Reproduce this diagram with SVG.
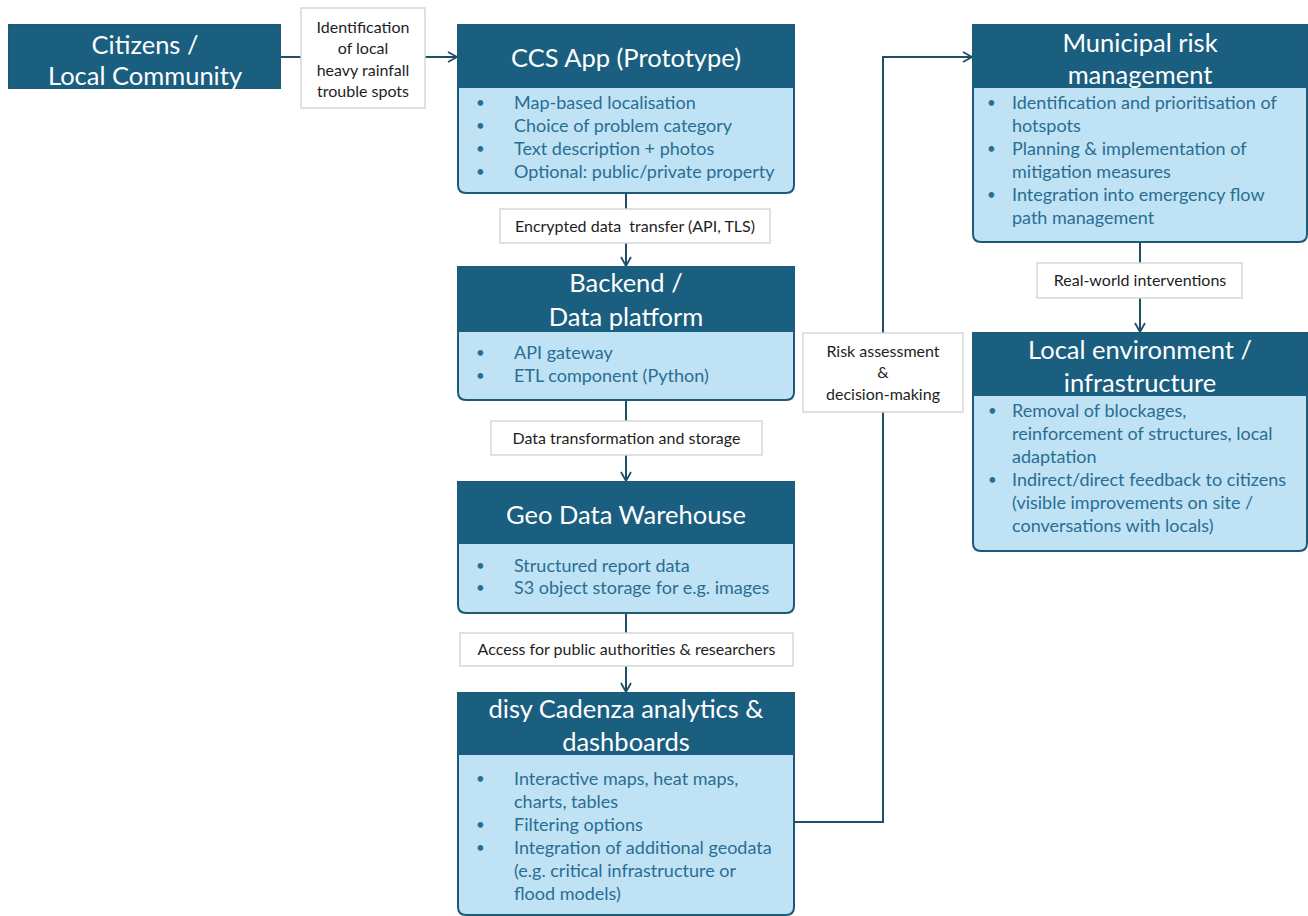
<svg xmlns="http://www.w3.org/2000/svg" width="1308" height="916" viewBox="0 0 1308 916">
<defs>
<marker id="arr" markerWidth="12" markerHeight="12" refX="10" refY="6" orient="auto" markerUnits="userSpaceOnUse">
<path d="M1,1 L10,6 L1,11" fill="none" stroke="#1f4f66" stroke-width="1.8"/>
</marker>
<style>
.hdr{fill:#1a5e80}
.body{fill:#bfe3f4;stroke:#1d5a78;stroke-width:2}
.ttl{font-family:Lato,"Open Sans",sans-serif;font-size:25.5px;fill:#ffffff;text-anchor:middle}
.txt{font-family:Lato,"Open Sans",sans-serif;font-size:18px;fill:#2a6d93}
.bul{font-size:15px}
.lbl{fill:#ffffff;stroke:#d6d6d6;stroke-width:1.5}
.lt{font-family:Lato,"Open Sans",sans-serif;font-size:16px;fill:#1e1e1e;text-anchor:middle}
.con{fill:none;stroke:#1f4f66;stroke-width:2}
</style>
</defs>
<rect width="1308" height="916" fill="#ffffff"/>

<g id="connectors">
<line class="con" x1="280" y1="57" x2="301" y2="57"/>
<line class="con" x1="425" y1="57" x2="457" y2="57" marker-end="url(#arr)"/>
<line class="con" x1="626" y1="193" x2="626" y2="266" marker-end="url(#arr)"/>
<line class="con" x1="626" y1="400" x2="626" y2="481" marker-end="url(#arr)"/>
<line class="con" x1="626" y1="613" x2="626" y2="692" marker-end="url(#arr)"/>
<polyline class="con" points="794,822 883,822 883,57 972,57" marker-end="url(#arr)"/>
<line class="con" x1="1140" y1="242" x2="1140" y2="332" marker-end="url(#arr)"/>
<g id="label-identification">
<rect class="lbl" x="301" y="8" width="124" height="100"/>
<text class="lt" x="363" y="33">Identification</text>
<text class="lt" x="363" y="54">of local</text>
<text class="lt" x="363" y="76">heavy rainfall</text>
<text class="lt" x="363" y="97">trouble spots</text>
</g>
<g id="label-encrypted">
<rect class="lbl" x="500" y="209" width="270" height="34"/>
<text class="lt" x="635" y="231.5" xml:space="preserve">Encrypted data  transfer (API, TLS)</text>
</g>
<g id="label-transform">
<rect class="lbl" x="491" y="421" width="271" height="34"/>
<text class="lt" x="626.5" y="443.5">Data transformation and storage</text>
</g>
<g id="label-access">
<rect class="lbl" x="460" y="633" width="333" height="33"/>
<text class="lt" x="626.5" y="655">Access for public authorities &amp; researchers</text>
</g>
<g id="label-risk">
<rect class="lbl" x="803" y="333" width="160" height="79"/>
<text class="lt" x="883" y="356.5">Risk assessment</text>
<text class="lt" x="883" y="377.5">&amp;</text>
<text class="lt" x="883" y="399.5">decision-making</text>
</g>
<g id="label-realworld">
<rect class="lbl" x="1037" y="263" width="205" height="35"/>
<text class="lt" x="1140" y="286">Real-world interventions</text>
</g>
</g>

<g id="citizens">
<rect class="hdr" x="9" y="25" width="271" height="63" stroke="#1d5a78" stroke-width="2"/>
<text class="ttl" x="145" y="54">Citizens /</text>
<text class="ttl" x="145" y="85">Local Community</text>
</g>

<g id="ccs-app">
<path class="body" d="M458,25 H794 V185 Q794,193 786,193 H466 Q458,193 458,185 Z"/>
<rect class="hdr" x="458" y="25" width="336" height="63"/>
<text class="ttl" x="626" y="67">CCS App (Prototype)</text>
<g class="txt">
<text class="bul" x="476" y="108">•</text><text x="514" y="108.5">Map-based localisation</text>
<text class="bul" x="476" y="131">•</text><text x="514" y="131.5">Choice of problem category</text>
<text class="bul" x="476" y="154">•</text><text x="514" y="154.5">Text description + photos</text>
<text class="bul" x="476" y="177">•</text><text x="514" y="177.5">Optional: public/private property</text>
</g>
</g>

<g id="backend">
<path class="body" d="M458,267 H794 V392 Q794,400 786,400 H466 Q458,400 458,392 Z"/>
<rect class="hdr" x="458" y="267" width="336" height="65"/>
<text class="ttl" x="626" y="292">Backend /</text>
<text class="ttl" x="626" y="326">Data platform</text>
<g class="txt">
<text class="bul" x="476" y="358">•</text><text x="514" y="358.5">API gateway</text>
<text class="bul" x="476" y="381">•</text><text x="514" y="381.5">ETL component (Python)</text>
</g>
</g>

<g id="geo-dwh">
<path class="body" d="M458,482 H794 V605 Q794,613 786,613 H466 Q458,613 458,605 Z"/>
<rect class="hdr" x="458" y="482" width="336" height="62"/>
<text class="ttl" x="626" y="524">Geo Data Warehouse</text>
<g class="txt">
<text class="bul" x="476" y="571">•</text><text x="514" y="571.5">Structured report data</text>
<text class="bul" x="476" y="593">•</text><text x="514" y="593.5">S3 object storage for e.g. images</text>
</g>
</g>

<g id="disy-cadenza">
<path class="body" d="M458,693 H794 V907 Q794,915 786,915 H466 Q458,915 458,907 Z"/>
<rect class="hdr" x="458" y="693" width="336" height="62"/>
<text class="ttl" x="626" y="718">disy Cadenza analytics &amp;</text>
<text class="ttl" x="626" y="751">dashboards</text>
<g class="txt">
<text class="bul" x="476" y="784">•</text><text x="514" y="784.5">Interactive maps, heat maps,</text>
<text x="514" y="807.5">charts, tables</text>
<text class="bul" x="476" y="830">•</text><text x="514" y="830.5">Filtering options</text>
<text class="bul" x="476" y="853">•</text><text x="514" y="853.5">Integration of additional geodata</text>
<text x="514" y="876.5">(e.g. critical infrastructure or</text>
<text x="514" y="899.5">flood models)</text>
</g>
</g>

<g id="municipal">
<path class="body" d="M973,25 H1307 V234 Q1307,242 1299,242 H981 Q973,242 973,234 Z"/>
<rect class="hdr" x="973" y="25" width="334" height="63"/>
<text class="ttl" x="1140" y="52">Municipal risk</text>
<text class="ttl" x="1140" y="84">management</text>
<g class="txt">
<text class="bul" x="987" y="108">•</text><text x="1012" y="108.5">Identification and prioritisation of</text>
<text x="1012" y="131.5">hotspots</text>
<text class="bul" x="987" y="154">•</text><text x="1012" y="154.5">Planning &amp; implementation of</text>
<text x="1012" y="177.5">mitigation measures</text>
<text class="bul" x="987" y="200">•</text><text x="1012" y="200.5">Integration into emergency flow</text>
<text x="1012" y="223.5">path management</text>
</g>
</g>

<g id="local-env">
<path class="body" d="M973,333 H1307 V543 Q1307,551 1299,551 H981 Q973,551 973,543 Z"/>
<rect class="hdr" x="973" y="333" width="334" height="63"/>
<text class="ttl" x="1140" y="359">Local environment /</text>
<text class="ttl" x="1140" y="392">infrastructure</text>
<g class="txt">
<text class="bul" x="988" y="416">•</text><text x="1012" y="416.5">Removal of blockages,</text>
<text x="1012" y="439.5">reinforcement of structures, local</text>
<text x="1012" y="462.5">adaptation</text>
<text class="bul" x="988" y="485">•</text><text x="1012" y="485.5">Indirect/direct feedback to citizens</text>
<text x="1012" y="508.5">(visible improvements on site /</text>
<text x="1012" y="531.5">conversations with locals)</text>
</g>
</g>
</svg>
